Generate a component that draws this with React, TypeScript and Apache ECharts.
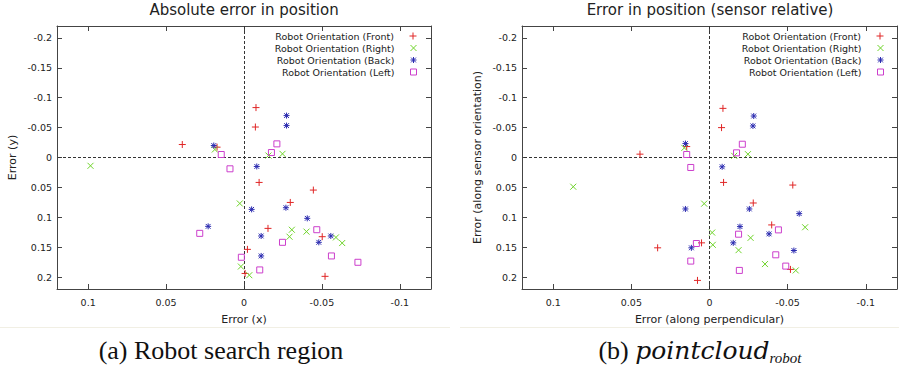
import React, { useEffect, useRef } from "react";
import * as echarts from "echarts";

const seriesNames = [
  "Robot Orientation (Front)",
  "Robot Orientation (Right)",
  "Robot Orientation (Back)",
  "Robot Orientation (Left)",
];

const xTicks = [-0.1, -0.05, 0, 0.05, 0.1];
const yTicks = [-0.2, -0.15, -0.1, -0.05, 0, 0.05, 0.1, 0.15, 0.2];

// Panel (a): absolute error [x, y]
const absFront = [[-0.0077, -0.0835], [-0.0073, -0.051], [0.0396, -0.0217], [0.0173, -0.0173], [-0.0097, 0.0417], [-0.0445, 0.0545], [-0.0297, 0.0752], [-0.0154, 0.1186], [-0.0502, 0.1325], [-0.0022, 0.1537], [-0.0007, 0.194], [-0.052, 0.1988]];
const absRight = [[0.0985, 0.0139], [0.0187, -0.0134], [-0.0157, -0.0033], [-0.0247, -0.0061], [0.0027, 0.0769], [-0.0307, 0.1209], [-0.0401, 0.124], [-0.0292, 0.1325], [-0.059, 0.1337], [-0.063, 0.1431], [0.002, 0.1824], [-0.0034, 0.1969]];
const absBack = [[-0.0273, -0.0701], [-0.0273, -0.0534], [0.0194, -0.02], [-0.0082, 0.015], [-0.0049, 0.0868], [-0.0269, 0.084], [-0.0406, 0.1018], [0.023, 0.1152], [-0.011, 0.1313], [-0.0557, 0.1313], [-0.048, 0.1419], [-0.011, 0.1647]];
const absLeft = [[-0.0211, -0.0228], [-0.0176, -0.0083], [0.0146, -0.005], [0.009, 0.0189], [-0.0467, 0.1208], [0.0284, 0.1269], [-0.0247, 0.1419], [0.0017, 0.1669], [-0.0561, 0.1647], [-0.0731, 0.1753], [-0.0101, 0.1881]];

// Panel (b): sensor relative error [perpendicular, along orientation]
const relFront = [[-0.0086, -0.0822], [-0.0077, -0.05], [0.0445, -0.0056], [0.0146, -0.0183], [-0.009, 0.0417], [-0.0533, 0.0461], [-0.028, 0.0761], [-0.0398, 0.1128], [0.0051, 0.1428], [0.0332, 0.1511], [-0.0518, 0.1872], [0.0077, 0.2056]];
const relRight = [[0.0872, 0.0489], [0.0161, -0.0161], [-0.0158, -0.0028], [-0.0246, -0.0056], [0.0034, 0.0772], [-0.0017, 0.1256], [-0.0021, 0.1461], [-0.0186, 0.155], [-0.0263, 0.1344], [-0.0612, 0.1167], [-0.0355, 0.1783], [-0.0552, 0.1889]];
const relBack = [[-0.0283, -0.0694], [-0.0278, -0.0528], [0.0154, -0.0233], [-0.0081, 0.0156], [0.0154, 0.0861], [-0.0255, 0.0861], [-0.0574, 0.0939], [-0.0195, 0.1156], [-0.0381, 0.1278], [-0.0152, 0.1428], [0.0116, 0.1511], [-0.054, 0.1556]];
const relLeft = [[-0.021, -0.0222], [-0.0173, -0.0078], [0.0146, -0.005], [0.012, 0.0167], [-0.0441, 0.1211], [-0.0186, 0.1283], [0.0084, 0.1439], [-0.0424, 0.1628], [0.012, 0.1733], [-0.0488, 0.1817], [-0.0191, 0.1889]];

const colors = ["#e02626", "#6fd42a", "#2b2bb0", "#cc3fcc"];
const symbols = [
  "path://M0,5L10,5M5,0L5,10",
  "path://M0,0L10,10M0,10L10,0",
  "path://M0,5L10,5M5,0L5,10M1,1L9,9M1,9L9,1",
  "path://M0,0L10,0L10,10L0,10Z",
];
const symbolSizes = [7, 6, 6, 6];

const FONT = "DejaVu Sans";
const TEXT = "#222";
const BORDER = "#444";

function makeXAxes(gridIndex: number, name: string) {
  const common = {
    gridIndex,
    type: "value" as const,
    min: -0.12,
    max: 0.12,
    inverse: true,
    splitLine: { show: false },
    axisLine: { show: true, onZero: false, lineStyle: { color: BORDER, width: 1 } },
    axisTick: { show: true, inside: true, length: 5, customValues: xTicks, lineStyle: { color: BORDER } },
  };
  return [
    {
      ...common,
      position: "bottom",
      axisLabel: { customValues: xTicks, fontSize: 9.5, color: TEXT, fontFamily: FONT, margin: 8 },
      name,
      nameLocation: "middle",
      nameGap: 25,
      nameTextStyle: { fontSize: 11, color: TEXT, fontFamily: FONT },
    },
    { ...common, position: "top", axisLabel: { show: false } },
  ];
}

function makeYAxes(gridIndex: number, name: string) {
  const common = {
    gridIndex,
    type: "value" as const,
    min: -0.22,
    max: 0.22,
    inverse: true,
    splitLine: { show: false },
    axisLine: { show: true, onZero: false, lineStyle: { color: BORDER, width: 1 } },
    axisTick: { show: true, inside: true, length: 5, customValues: yTicks, lineStyle: { color: BORDER } },
  };
  return [
    {
      ...common,
      position: "left",
      axisLabel: { customValues: yTicks, fontSize: 9.5, color: TEXT, fontFamily: FONT, margin: 5 },
      name,
      nameLocation: "middle",
      nameGap: 39,
      nameTextStyle: { fontSize: 11, color: TEXT, fontFamily: FONT },
    },
    { ...common, position: "right", axisLabel: { show: false } },
  ];
}

function makeSeries(datasets: number[][][], axisIndex: number) {
  return datasets.map((data, i) => ({
    type: "scatter",
    name: seriesNames[i],
    xAxisIndex: axisIndex,
    yAxisIndex: axisIndex,
    data,
    symbol: symbols[i],
    symbolSize: symbolSizes[i],
    symbolKeepAspect: true,
    itemStyle: { color: "none", borderColor: colors[i], borderWidth: 1, opacity: 1 },
    emphasis: { disabled: true },
    silent: true,
    z: 3,
    markLine:
      i === 0
        ? {
            silent: true,
            symbol: ["none", "none"],
            label: { show: false },
            lineStyle: { color: "#333", width: 1, type: [3, 2] },
            data: [{ xAxis: 0 }, { yAxis: 0 }],
            z: 1,
          }
        : undefined,
  }));
}

function makeLegends(right: number, tops: number[]) {
  return seriesNames.map((n, i) => ({
    data: [{ name: n, icon: symbols[i], itemStyle: { color: "none", borderColor: colors[i], borderWidth: 1 } }],
    orient: "vertical",
    align: "right",
    right,
    top: tops[i],
    padding: 0,
    itemWidth: 28,
    itemHeight: symbolSizes[i],
    selectedMode: false,
    textStyle: { fontSize: 9.5, color: TEXT, fontFamily: FONT, lineHeight: 12 },
  }));
}

export default function App() {
  const ref = useRef<HTMLDivElement>(null);
  useEffect(() => {
    if (!ref.current) return;
    const chart = echarts.init(ref.current, null, { renderer: "svg" });
    const option = {
      animation: false,
      backgroundColor: "#ffffff",
      grid: [
        { left: 57, top: 26, width: 374, height: 263 },
        { left: 522, top: 26, width: 375, height: 263 },
      ],
      xAxis: [...makeXAxes(0, "Error (x)"), ...makeXAxes(1, "Error (along perpendicular)")],
      yAxis: [...makeYAxes(0, "Error (y)"), ...makeYAxes(1, "Error (along sensor orientation)")],
      legend: [
        ...makeLegends(480, [30, 42, 54, 66]),
        ...makeLegends(13, [30, 42, 54, 66]),
      ],
      series: [
        ...makeSeries([absFront, absRight, absBack, absLeft], 0),
        ...makeSeries([relFront, relRight, relBack, relLeft], 2),
      ],
      graphic: [
        {
          type: "line",
          shape: { x1: 0, y1: 327.5, x2: 450, y2: 327.5 },
          style: { stroke: "#f1efe4", lineWidth: 1 },
        },
        {
          type: "line",
          shape: { x1: 460, y1: 327.5, x2: 899, y2: 327.5 },
          style: { stroke: "#f1efe4", lineWidth: 1 },
        },
        {
          type: "text",
          x: 244,
          y: 10,
          style: { text: "Absolute error in position", fontSize: 15, fontFamily: FONT, fill: TEXT, textAlign: "center", textVerticalAlign: "middle" },
        },
        {
          type: "text",
          x: 710,
          y: 10,
          style: { text: "Error in position (sensor relative)", fontSize: 15, fontFamily: FONT, fill: TEXT, textAlign: "center", textVerticalAlign: "middle" },
        },
        {
          type: "text",
          x: 221,
          y: 350,
          style: { text: "(a) Robot search region", fontSize: 26, fontFamily: "Liberation Serif", fill: "#111", textAlign: "center", textVerticalAlign: "middle" },
        },
        {
          type: "text",
          x: 700,
          y: 350,
          style: {
            text: "{n|(b) }{i|pointcloud}{s|robot}",
            textAlign: "center",
            textVerticalAlign: "middle",
            fill: "#111",
            rich: {
              n: { fontSize: 26, fontFamily: "Liberation Serif", lineHeight: 30, verticalAlign: "middle", fill: "#111" },
              i: { fontSize: 25, fontFamily: "DejaVu Serif", fontStyle: "italic", lineHeight: 30, verticalAlign: "middle", fill: "#111" },
              s: { fontSize: 15, fontFamily: "Liberation Serif", fontStyle: "italic", lineHeight: 14, verticalAlign: "bottom", fill: "#111" },
            },
          },
        },
      ],
    };
    chart.setOption(option as any);
    return () => chart.dispose();
  }, []);
  return <div ref={ref} style={{ position: "absolute", left: 0, top: 0, width: 899, height: 370 }} />;
}
